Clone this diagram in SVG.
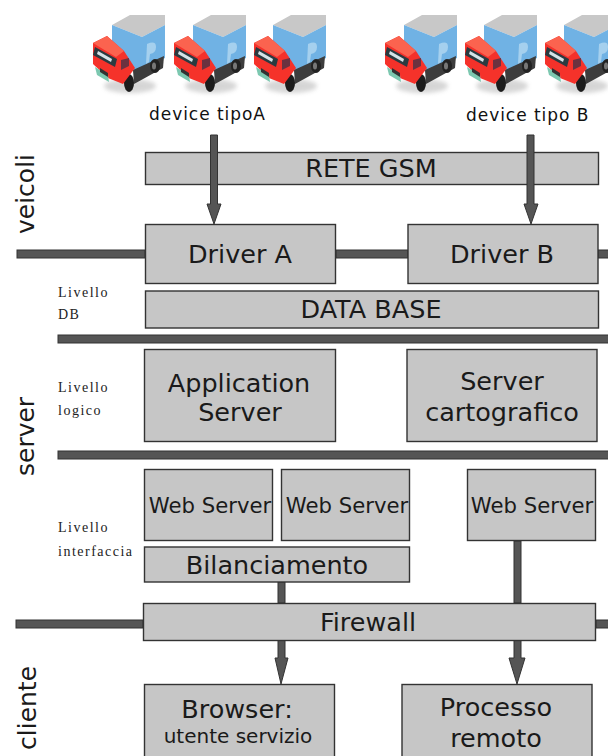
<svg xmlns="http://www.w3.org/2000/svg" width="608" height="756" viewBox="0 0 608 756">
<style>
.b{fill:#c6c6c6;stroke:#333;stroke-width:1.4}
.w{fill:#555;stroke:#333;stroke-width:1}
.t{font-family:"DejaVu Sans",sans-serif;fill:#1a1a1a;text-anchor:middle;font-size:25.500px}
.d{font-family:"DejaVu Sans",sans-serif;fill:#111;font-size:17px;letter-spacing:.95px}
.s{font-family:"Liberation Serif",serif;fill:#222;font-size:14px;letter-spacing:1.5px}
.r{font-family:"DejaVu Sans",sans-serif;fill:#1a1a1a;font-size:25px}
</style>
<defs>
<filter id="sh" x="-30%" y="-30%" width="160%" height="160%"><feGaussianBlur stdDeviation="2"/></filter>
<filter id="so" x="-5%" y="-5%" width="110%" height="110%"><feGaussianBlur stdDeviation=".6"/></filter>
<symbol id="truck" overflow="visible" width="80" height="95" viewBox="0 0 80 95">
<ellipse cx="38" cy="72" rx="26" ry="7" fill="#999" opacity=".4" filter="url(#sh)"/>
<g filter="url(#so)">
<polygon points="20,11 38,1 73,1 73,11 50,23" fill="#c8c8c8"/>
<polygon points="20,11 50,23 73,11 73,44 44,58 20,40" fill="#6fb2e4"/>
<path d="M55 30q9-4 9 3q0 6-6 7l-1 8-3 2z" fill="#a5d0ee"/>
<polygon points="41,56 72,42 71,54 42,70" fill="#3c3c3c"/>
<ellipse cx="63" cy="52" rx="5" ry="7" fill="#222"/>
<ellipse cx="62" cy="52" rx="2" ry="3.500" fill="#777"/>
<ellipse cx="37" cy="69" rx="5" ry="9" fill="#1c1c1c"/>
<polygon points="1,29 15,22 32,37 43,54 31,70 16,64 1,50" fill="#f5302c"/>
<polygon points="1,29 15,22 32,37 24,43" fill="#fb6450"/>
<polygon points="3,33 25,45 23,53 1,41" fill="#2c3a40"/>
<polygon points="6,37 20,45 19,48 5,40" fill="#d5e3e8"/>
<polygon points="29,46 37,44 37,52 29,56" fill="#6a3040"/>
<polygon points="3,53 16,61 17,68 5,61" fill="#7cc8b0"/>
<polygon points="8,54 16,59 16,63 8,58" fill="#333"/>
</g>
</symbol>
</defs>

<g id="trucks">
<use href="#truck" x="92" y="14"/><use href="#truck" x="173" y="14"/><use href="#truck" x="253" y="14"/>
<use href="#truck" x="384" y="14"/><use href="#truck" x="464" y="14"/><use href="#truck" x="544" y="14"/>
</g>
<text class="d" x="149" y="120">device tipoA</text>
<text class="d" x="466" y="121">device tipo B</text>
<text class="r" transform="translate(34,234) rotate(-90)">veicoli</text>
<text class="r" transform="translate(34,476) rotate(-90)">server</text>
<text class="r" transform="translate(36,750) rotate(-90)">cliente</text>
<g id="labels">
<text class="s" x="58" y="297">Livello</text><text class="s" x="58" y="319">DB</text>
<text class="s" x="58" y="392">Livello</text><text class="s" x="58" y="415">logico</text>
<text class="s" x="58" y="532">Livello</text><text class="s" x="58" y="556">interfaccia</text>
</g>

<g id="bars">
<rect class="w" x="17" y="250" width="128" height="8"/>
<rect class="w" x="336" y="250" width="72" height="8"/>
<rect class="w" x="598" y="250" width="12" height="8"/>
<rect class="w" x="58" y="335" width="552" height="8"/>
<rect class="w" x="58" y="451" width="552" height="8"/>
<rect class="w" x="16" y="620" width="127" height="8"/>
<rect class="w" x="596" y="620" width="14" height="8"/>
</g>

<g id="rete"><rect class="b" x="145.500" y="152.500" width="453" height="32"/><text class="t" x="371" y="177">RETE GSM</text></g>

<g id="connectors">
<polygon class="w" points="210.500,135 217.500,135 217.500,204 221,204 214,224 207,204 210.500,204"/>
<polygon class="w" points="527,135 534,135 534,204 538,204 531,224 524,204 527,204"/>
<rect class="w" x="278" y="582" width="7" height="21"/>
<rect class="w" x="514" y="541" width="7" height="62"/>
<polygon class="w" points="278,640 285,640 285,658 288,658 281,684 275,658 278,658"/>
<polygon class="w" points="514,640 521,640 521,658 525,658 517,684 509,658 514,658"/>
</g>

<g id="driverA"><rect class="b" x="145.500" y="224.500" width="190" height="59"/><text class="t" x="240" y="263">Driver A</text></g>
<g id="driverB"><rect class="b" x="408" y="224.500" width="190" height="59"/><text class="t" x="502" y="263">Driver B</text></g>
<g id="database"><rect class="b" x="145.500" y="291" width="453" height="37"/><text class="t" x="371" y="318">DATA BASE</text></g>
<g id="app"><rect class="b" x="144.500" y="349.500" width="191" height="92"/><text class="t" x="239" y="392">Application</text><text class="t" x="240" y="421">Server</text></g>
<g id="carto"><rect class="b" x="407" y="349.500" width="190" height="92"/><text class="t" x="502" y="390">Server</text><text class="t" x="502" y="421">cartografico</text></g>
<g id="web1"><rect class="b" x="144.500" y="469.500" width="128" height="71"/><text class="t" style="font-size:21.200px" x="210" y="513">Web Server</text></g>
<g id="web2"><rect class="b" x="281.500" y="469.500" width="128" height="71"/><text class="t" style="font-size:21.200px" x="347" y="513">Web Server</text></g>
<g id="web3"><rect class="b" x="467.500" y="469.500" width="128" height="71"/><text class="t" style="font-size:21.200px" x="532" y="513">Web Server</text></g>
<g id="bil"><rect class="b" x="144.500" y="547" width="265" height="35"/><text class="t" x="277" y="574">Bilanciamento</text></g>
<g id="firewall"><rect class="b" x="143.500" y="603.500" width="452" height="37"/><text class="t" x="368" y="631">Firewall</text></g>
<g id="browser"><rect class="b" x="144.500" y="684.500" width="190" height="80"/><text class="t" x="237" y="718">Browser:</text><text class="t" style="font-size:20px" x="238" y="743">utente servizio</text></g>
<g id="processo"><rect class="b" x="402" y="684.500" width="190" height="80"/><text class="t" x="496" y="716">Processo</text><text class="t" x="496" y="747">remoto</text></g>
</svg>
